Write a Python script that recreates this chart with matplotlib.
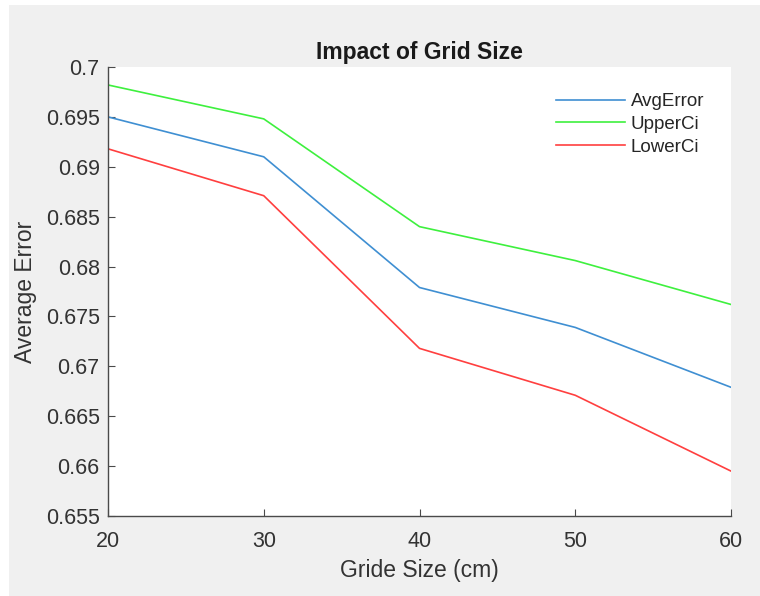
import matplotlib
matplotlib.use("Agg")
import matplotlib.pyplot as plt
from matplotlib.patches import Rectangle
from matplotlib.ticker import FuncFormatter

plt.rcParams["font.family"] = ["Liberation Sans", "DejaVu Sans"]

grid_size = [20, 30, 40, 50, 60]
avg_error = [0.6950, 0.6910, 0.6779, 0.6739, 0.6679]
upper_ci = [0.6982, 0.6948, 0.6840, 0.6806, 0.6762]
lower_ci = [0.6918, 0.6871, 0.6718, 0.6671, 0.6595]
y_ticks = [0.655, 0.66, 0.665, 0.67, 0.675, 0.68, 0.685, 0.69, 0.695, 0.7]

fig = plt.figure(figsize=(7.6, 5.96), dpi=100, facecolor="white")
# gray MATLAB-like figure panel, small white strip at left/top
fig.patches.append(Rectangle((9 / 760, 0), 1 - 9 / 760, 1 - 5 / 596,
                             transform=fig.transFigure, facecolor="#f0f0f0",
                             edgecolor="none", zorder=-10))

ax = fig.add_axes([108 / 760, 1 - 516 / 596, (731 - 108) / 760, (516 - 67) / 596])
ax.set_facecolor("white")

ax.plot(grid_size, avg_error, color="#3f8fd2", lw=1.2, label="AvgError")
ax.plot(grid_size, upper_ci, color="#3ef03e", lw=1.2, label="UpperCi")
ax.plot(grid_size, lower_ci, color="#ff3f3f", lw=1.2, label="LowerCi")

ax.set_xlim(20, 60)
ax.set_ylim(0.655, 0.7)
ax.set_xticks(grid_size)
ax.set_yticks(y_ticks)
ax.yaxis.set_major_formatter(FuncFormatter(lambda v, p: "%g" % round(v, 4)))

for s in ["top", "right"]:
    ax.spines[s].set_visible(False)
for s in ["left", "bottom"]:
    ax.spines[s].set_color("#4a4a4a")
    ax.spines[s].set_linewidth(1.0)
ax.tick_params(direction="in", length=5, width=0.8, color="#4a4a4a",
               labelsize=15.5, labelcolor="#333333", pad=6)
ax.tick_params(axis="x", pad=11)

ax.set_title("Impact of Grid Size", fontsize=16.5, fontweight="bold",
             color="#1a1a1a", pad=6)
ax.set_xlabel("Gride Size (cm)", fontsize=16.5, color="#333333", labelpad=5)
ax.set_ylabel("Average Error", fontsize=16.5, color="#333333", labelpad=6)

leg = ax.legend(loc="upper right", frameon=False, fontsize=13.5,
                handlelength=3.7, handletextpad=0.3, labelspacing=0.30,
                borderpad=0, borderaxespad=0,
                bbox_to_anchor=(0.957, 0.942))
for t in leg.get_texts():
    t.set_color("#262626")

fig.savefig("out.png", dpi=100, facecolor=fig.get_facecolor())
